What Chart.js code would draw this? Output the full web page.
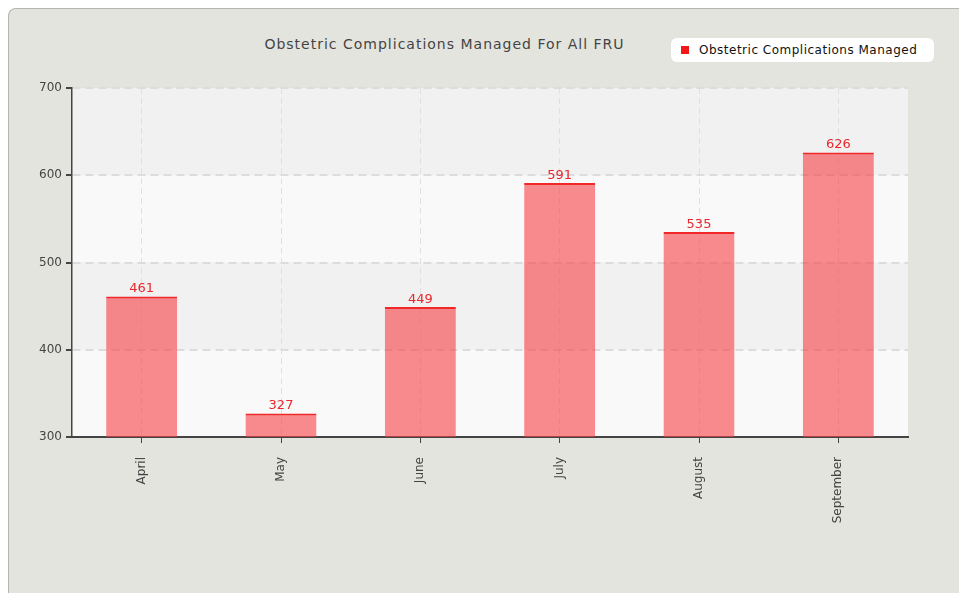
<!DOCTYPE html>
<html lang="en">
  <head>
    <meta charset="UTF-8" />
    <title>Obstetric Complications Managed For All FRU</title>
    <script src="https://cdn.jsdelivr.net/npm/chart.js"></script>
    <style>
      body {
        margin: 0;
        background: #ffffff;
        font-family: "DejaVu Sans", sans-serif;
      }
      .panel {
        position: absolute;
        left: 8px;
        top: 8px;
        width: 951px;
        height: 585px;
        box-sizing: border-box;
        background: #e4e4df;
        border: 1px solid #b4b4b0;
        border-right: none;
        border-bottom: none;
        border-top-left-radius: 8px;
      }
      .title {
        position: absolute;
        left: 0;
        width: 889px;
        top: 36px;
        text-align: center;
        font-size: 14px;
        letter-spacing: 1px;
        color: #444;
      }
      .legend {
        position: absolute;
        left: 671px;
        top: 38px;
        width: 263px;
        height: 24px;
        background: #fff;
        border-radius: 6px;
        font-size: 12px;
        letter-spacing: 0.5px;
        color: #111;
        line-height: 24px;
      }
      .legend span {
        display: inline-block;
        width: 8px;
        height: 8px;
        background: #f01818;
        margin: 0 10px 0 10px;
        vertical-align: 0;
      }
      canvas {
        position: absolute;
        left: 0;
        top: 0;
      }
    </style>
  </head>
  <body>
    <div class="panel"></div>
    <div class="title">Obstetric Complications Managed For All FRU</div>
    <div class="legend"><span></span>Obstetric Complications Managed</div>
    <canvas id="obsChart" width="959" height="593"></canvas>

    <script>
      const months = ["April", "May", "June", "July", "August", "September"];
      const managed = [461, 327, 449, 591, 535, 626];
      const yTicks = [300, 400, 500, 600, 700];

      // alternating background bands in the plot area
      const bandPlugin = {
        id: "bands",
        beforeDraw(chart) {
          const { ctx, chartArea, scales } = chart;
          ctx.save();
          ctx.fillStyle = "#f9f9f9";
          ctx.fillRect(chartArea.left, chartArea.top, chartArea.right - chartArea.left, chartArea.bottom - chartArea.top);
          ctx.fillStyle = "#f1f1f1";
          for (let i = 1; i < yTicks.length - 1; i += 2) {
            const top = scales.y.getPixelForValue(yTicks[i + 1]);
            const bottom = scales.y.getPixelForValue(yTicks[i]);
            ctx.fillRect(chartArea.left, top, chartArea.right - chartArea.left, bottom - top);
          }
          ctx.restore();
        },
      };

      // value labels above bars
      const valuePlugin = {
        id: "values",
        afterDatasetsDraw(chart) {
          const { ctx } = chart;
          ctx.save();
          ctx.font = "13px 'DejaVu Sans', sans-serif";
          ctx.fillStyle = "#e8282c";
          ctx.textAlign = "center";
          ctx.textBaseline = "bottom";
          chart.getDatasetMeta(0).data.forEach((bar, i) => {
            ctx.fillText(managed[i], bar.x, bar.y - 1);
          });
          ctx.restore();
        },
      };

      new Chart(document.getElementById("obsChart"), {
        type: "bar",
        data: {
          labels: months,
          datasets: [
            {
              label: "Obstetric Complications Managed",
              data: managed,
              backgroundColor: "rgba(246, 64, 68, 0.6)",
              borderColor: "#f02828",
              borderWidth: { top: 2, left: 0, right: 0, bottom: 0 },
              borderSkipped: false,
              barPercentage: 0.51,
              categoryPercentage: 1,
            },
          ],
        },
        options: {
          responsive: false,
          animation: false,
          layout: { padding: { top: 88, right: 51, left: 0, bottom: 0 } },
          plugins: {
            legend: { display: false },
            title: { display: false },
            tooltip: { enabled: false },
          },
          scales: {
            x: {
              grid: {
                offset: false,
                color: "#e0e0e0",
                tickColor: "#444",
                tickLength: 6,
                tickBorderDash: [],
              },
              border: { color: "#444", width: 2, dash: [6, 4] },
              ticks: {
                minRotation: 90,
                maxRotation: 90,
                padding: 14,
                color: "#444",
                font: { family: "DejaVu Sans", size: 12 },
              },
              afterFit(scale) {
                scale.height = 156;
              },
            },
            y: {
              min: 300,
              max: 700,
              ticks: {
                stepSize: 100,
                padding: 4,
                color: "#444",
                font: { family: "DejaVu Sans", size: 12 },
              },
              grid: {
                color: "#dcdcdc",
                lineWidth: 2,
                tickColor: "#444",
                tickLength: 6,
                tickBorderDash: [],
              },
              border: { color: "#444", width: 1.5, dash: [8, 5] },
              afterFit(scale) {
                scale.width = 72;
              },
            },
          },
        },
        plugins: [bandPlugin, valuePlugin],
      });
    </script>
  </body>
</html>
